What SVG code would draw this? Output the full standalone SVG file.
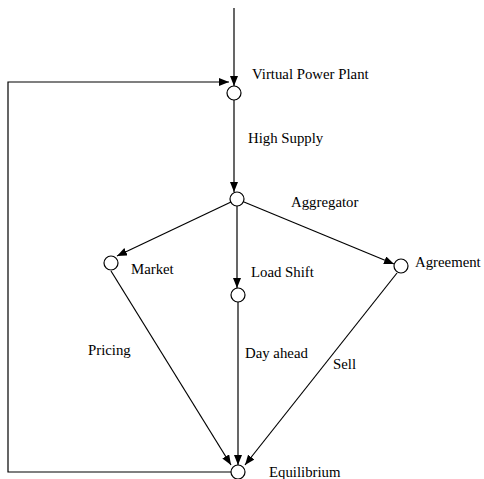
<svg xmlns="http://www.w3.org/2000/svg" width="484" height="479" viewBox="0 0 484 479">
<defs>
<marker id="arr" markerWidth="10" markerHeight="8" refX="10" refY="4" orient="auto" markerUnits="userSpaceOnUse">
<path d="M0,0 L10,4 L0,8 z" fill="#000"/>
</marker>
<style>
.e{stroke:#000;stroke-width:1.2;fill:none;marker-end:url(#arr)}
.n{fill:#fff;stroke:#000;stroke-width:1.2}
text{font-family:"Liberation Serif","Times New Roman",serif;font-size:14.8px;fill:#000}
</style>
</defs>
<rect width="484" height="479" fill="#fff"/>
<g id="connectors">
<path class="e" d="M234,8 L234,86"/>
<path class="e" d="M231,472 L8,472 L8,82 L229,82"/>
<path class="e" d="M234,100 L234,192"/>
<path class="e" d="M231,202 L117,256"/>
<path class="e" d="M237,206 L237,288"/>
<path class="e" d="M244,202 L394,264"/>
<path class="e" d="M111,271 L231,465"/>
<path class="e" d="M238,302 L238,465"/>
<path class="e" d="M397,273 L245,465"/>
</g>
<g id="vpp"><circle class="n" cx="234" cy="93" r="7"/><text x="252" y="79">Virtual Power Plant</text></g>
<g id="aggregator"><circle class="n" cx="237" cy="199" r="7"/><text x="291" y="207">Aggregator</text></g>
<g id="market"><circle class="n" cx="111" cy="263" r="7"/><text x="131" y="274">Market</text></g>
<g id="loadshift"><circle class="n" cx="238" cy="295" r="7"/><text x="251" y="277">Load Shift</text></g>
<g id="agreement"><circle class="n" cx="401" cy="266" r="7"/><text x="415" y="267">Agreement</text></g>
<g id="equilibrium"><circle class="n" cx="238" cy="472" r="7"/><text x="269" y="477">Equilibrium</text></g>
<g id="labels">
<text x="248" y="143">High Supply</text>
<text x="88" y="355">Pricing</text>
<text x="245" y="358">Day ahead</text>
<text x="333" y="369">Sell</text>
</g>
</svg>
